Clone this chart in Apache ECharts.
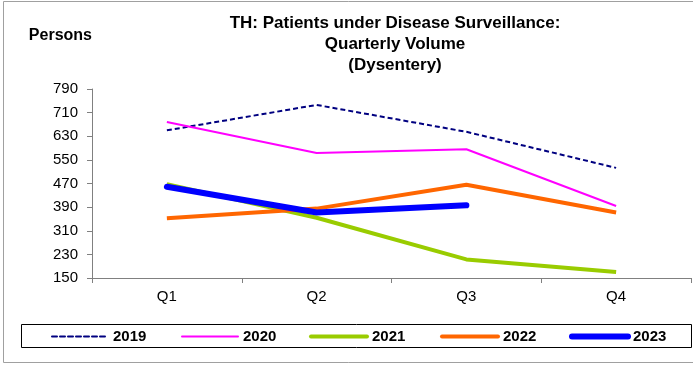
<!DOCTYPE html>
<html>
<head>
<meta charset="utf-8">
<script src="https://cdn.jsdelivr.net/npm/echarts@6/dist/echarts.min.js"></script>
<style>
  html, body { margin: 0; padding: 0; background: #fff; }
  #chart { width: 693px; height: 365px; }
</style>
</head>
<body>
<div id="chart"></div>
<script>
// Quarterly dysentery surveillance volume, persons
const quarters = ['Q1', 'Q2', 'Q3', 'Q4'];
const years = ['2019', '2020', '2021', '2022', '2023'];
const v2019 = [650, 736, 645, 523];
const v2020 = [678, 573, 586, 394];
const v2021 = [468, 354, 213, 170];
const v2022 = [352, 385, 466, 372];
const v2023 = [459, 372, 396, null];
const yMin = 150, yMax = 790, yStep = 80;

const FONT = '"Liberation Sans", Arial, sans-serif';

const styles = {
  '2019': { color: '#000080', width: 2, type: [5, 3] },
  '2020': { color: '#FF00FF', width: 2, type: 'solid' },
  '2021': { color: '#99CC00', width: 4, type: 'solid' },
  '2022': { color: '#FF6600', width: 4, type: 'solid' },
  '2023': { color: '#0000FF', width: 6, type: 'solid', cap: 'round' }
};
const values = { '2019': v2019, '2020': v2020, '2021': v2021, '2022': v2022, '2023': v2023 };

const series = years.map(y => ({
  name: y,
  type: 'line',
  data: values[y],
  symbol: 'none',
  z: 2 + years.indexOf(y),
  color: styles[y].color,
  lineStyle: {
    color: styles[y].color,
    width: styles[y].width,
    type: styles[y].type,
    cap: styles[y].cap || 'butt',
    join: 'round'
  }
}));

// one legend entry per year, laid out along the framed strip below the plot
const legendLeft = [51, 181, 309, 440, 569];
const legends = years.map((y, i) => ({
  left: legendLeft[i],
  top: 329,
  padding: 0,
  itemWidth: 56,
  itemHeight: 14,
  itemGap: 0,
  selectedMode: false,
  data: [{
    name: y,
    lineStyle: { color: styles[y].color, width: styles[y].width, type: styles[y].type, cap: 'round' },
    itemStyle: { color: 'rgba(0,0,0,0)', borderWidth: 0, opacity: 0 }
  }],
  textStyle: { fontFamily: FONT, fontWeight: 'bold', fontSize: 15, color: '#000' }
}));

const chart = echarts.init(document.getElementById('chart'), null, { renderer: 'canvas' });
chart.setOption({
  animation: false,
  backgroundColor: '#fff',
  title: {
    text: 'TH: Patients under Disease Surveillance:\nQuarterly Volume\n(Dysentery)',
    left: 395,
    top: 13,
    padding: 0,
    textAlign: 'center',
    textStyle: { fontFamily: FONT, fontWeight: 'bold', fontSize: 17, lineHeight: 21, color: '#000' }
  },
  grid: { left: 92, right: 2, top: 89, bottom: 87, containLabel: false },
  xAxis: {
    type: 'category',
    data: quarters,
    boundaryGap: true,
    axisLine: { lineStyle: { color: '#808080', width: 1 } },
    axisTick: { show: true, inside: false, length: 5, interval: 0, lineStyle: { color: '#808080' } },
    axisLabel: { margin: 11, fontFamily: FONT, fontSize: 15, color: '#000' },
    splitLine: { show: false }
  },
  yAxis: {
    type: 'value',
    min: yMin,
    max: yMax,
    interval: yStep,
    name: 'Persons',
    nameLocation: 'end',
    nameGap: 45,
    nameTextStyle: { fontFamily: FONT, fontWeight: 'bold', fontSize: 16, color: '#000', align: 'right' },
    axisLine: { show: true, lineStyle: { color: '#808080', width: 1 } },
    axisTick: { show: true, inside: false, length: 5, lineStyle: { color: '#808080' } },
    axisLabel: { margin: 14, fontFamily: FONT, fontSize: 15, color: '#000' },
    splitLine: { show: false }
  },
  legend: legends,
  graphic: [
    {
      type: 'rect',
      silent: true,
      shape: { x: 3.5, y: 1.5, width: 720, height: 361 },
      style: { fill: 'none', stroke: '#A0A0A0', lineWidth: 1 },
      z: -10
    },
    {
      type: 'rect',
      silent: true,
      shape: { x: 21.5, y: 324.5, width: 670, height: 23 },
      style: { fill: 'none', stroke: '#000', lineWidth: 1 },
      z: -5
    }
  ],
  series: series
});
</script>
</body>
</html>
